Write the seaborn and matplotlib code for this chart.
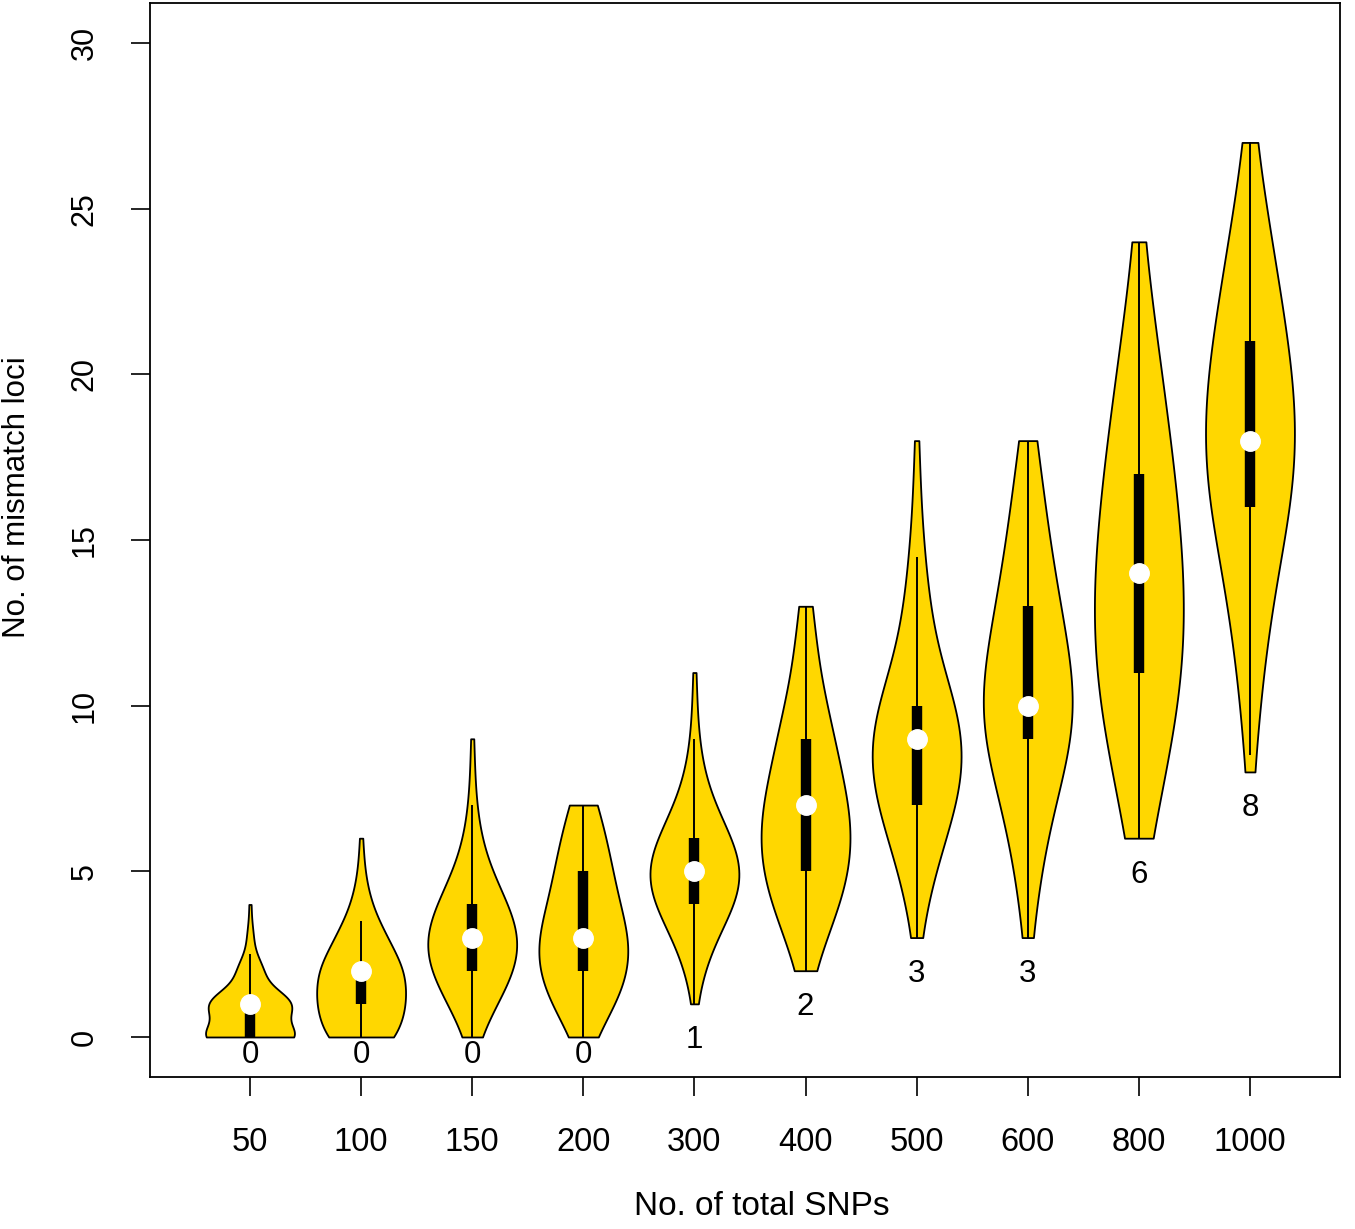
import numpy as np
import pandas as pd
import seaborn as sns
import matplotlib.pyplot as plt

snp_groups = ["50", "100", "150", "200", "300", "400", "500", "600", "800", "1000"]

# mismatch loci values and how often each one occurs, per SNP panel
snp50_vals = list(range(0, 5))
snp50_counts = [44, 40, 12, 3, 1]
snp100_vals = list(range(0, 7))
snp100_counts = [24, 28, 28, 16, 6, 2, 1]
snp150_vals = list(range(0, 10))
snp150_counts = [3, 12, 22, 25, 18, 9, 4, 2, 1, 1]
snp200_vals = list(range(0, 8))
snp200_counts = [3, 13, 17, 18, 12, 11, 8, 6]
snp300_vals = list(range(1, 12))
snp300_counts = [1, 4, 10, 20, 25, 18, 9, 4, 2, 1, 1]
snp400_vals = list(range(2, 14))
snp400_counts = [2, 6, 12, 15, 15, 16, 9, 11, 6, 4, 3, 3]
snp500_vals = list(range(3, 19))
snp500_counts = [1, 3, 5, 9, 13, 16, 16, 14, 7, 5, 4, 3, 2, 1, 1, 1]
snp600_vals = list(range(3, 19))
snp600_counts = [1, 2, 3, 4, 6, 8, 12, 14, 10, 9, 8, 6, 5, 4, 3, 3]
snp800_vals = list(range(6, 25))
snp800_counts = [2, 3, 4, 5, 6, 7, 7, 7, 7, 6, 6, 5, 5, 4, 3, 3, 2, 1, 1]
snp1000_vals = list(range(8, 28))
snp1000_counts = [1, 1, 2, 2, 3, 4, 5, 5, 9, 9, 9, 9, 8, 7, 6, 5, 4, 3, 2, 1]

all_vals = [snp50_vals, snp100_vals, snp150_vals, snp200_vals, snp300_vals,
            snp400_vals, snp500_vals, snp600_vals, snp800_vals, snp1000_vals]
all_counts = [snp50_counts, snp100_counts, snp150_counts, snp200_counts, snp300_counts,
              snp400_counts, snp500_counts, snp600_counts, snp800_counts, snp1000_counts]

frames = []
for grp, v, c in zip(snp_groups, all_vals, all_counts):
    frames.append(pd.DataFrame({"snps": grp, "mismatch": np.repeat(v, c)}))
data = pd.concat(frames, ignore_index=True)

sns.set_style("ticks", {"axes.edgecolor": "black", "xtick.color": "black",
                        "ytick.color": "black", "text.color": "black",
                        "axes.labelcolor": "black"})
plt.rcParams["font.family"] = ["Liberation Sans", "DejaVu Sans"]
plt.rcParams["axes.linewidth"] = 1.3

fig = plt.figure(figsize=(13.55, 12.29), dpi=100)
ax = fig.add_axes([0.1107, 0.1237, 0.8782, 0.8739])

sns.violinplot(data=data, x="snps", y="mismatch", order=snp_groups, color="#FFD700",
               linecolor="black", linewidth=1.3, inner=None, cut=0,
               density_norm="width", width=0.8, bw_adjust=1.3, saturation=1, ax=ax)

# vioplot style inner box: thin whisker, thick IQR bar, white median dot
for i, grp in enumerate(snp_groups):
    obs = data.loc[data["snps"] == grp, "mismatch"].to_numpy()
    q1, med, q3 = np.percentile(obs, [25, 50, 75])
    iqr = q3 - q1
    lo = max(obs.min(), q1 - 1.5 * iqr)
    hi = min(obs.max(), q3 + 1.5 * iqr)
    ax.vlines(i, lo, hi, color="black", lw=1.4, zorder=3)
    ax.vlines(i, q1, q3, color="black", lw=7.5, zorder=4)
    ax.plot(i, med, "o", color="white", mec="white", ms=14, zorder=5)
    ax.text(i, max(obs.min() - 1.1, -0.55), str(obs.min()), ha="center", va="center",
            fontsize=22.5, zorder=6)

ax.set_xlim(-0.9, 9.81)
ax.set_ylim(-1.207, 31.21)
ax.set_yticks([0, 5, 10, 15, 20, 25, 30])
ax.tick_params(axis="both", direction="out", length=14, width=1.2, pad=22)
ax.tick_params(axis="x", labelsize=23.5)
ax.tick_params(axis="y", labelsize=22)
for lab in ax.get_yticklabels():
    lab.set_rotation(90)
    lab.set_va("center")

ax.set_xlabel("No. of total SNPs", fontsize=24)
ax.set_ylabel("No. of mismatch loci", fontsize=22.5)
ax.xaxis.set_label_coords(0.514, -0.106)
ax.yaxis.set_label_coords(-0.099, 0.54)

plt.savefig("out.png", dpi=100)
